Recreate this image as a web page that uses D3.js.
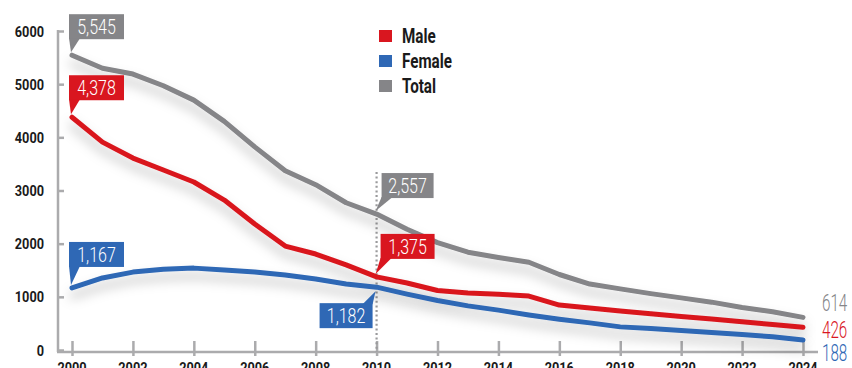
<!DOCTYPE html>
<html>
<head>
<meta charset="utf-8">
<script src="https://cdn.jsdelivr.net/npm/d3@7"></script>
<style>
  html, body { margin: 0; padding: 0; background: #fff; }
  svg { display: block; }
  text { font-family: Roboto, "Noto Sans", sans-serif; }
</style>
</head>
<body>
<svg id="chart" width="852" height="368"></svg>
<script>
// Yearly counts, 2000–2024
const years = d3.range(2000, 2025);
const male = [4378, 3910, 3610, 3385, 3160, 2820, 2370, 1955, 1805, 1600, 1375, 1260, 1120, 1070, 1050, 1015, 845, 790, 735, 680, 630, 585, 530, 480, 426];
const female = [1167, 1355, 1465, 1520, 1540, 1505, 1465, 1410, 1335, 1240, 1182, 1050, 930, 830, 750, 660, 580, 510, 435, 405, 365, 330, 290, 250, 188];
const total = [5545, 5300, 5190, 4970, 4700, 4300, 3820, 3370, 3110, 2770, 2557, 2270, 2020, 1840, 1740, 1650, 1420, 1240, 1150, 1060, 980, 900, 800, 720, 614];
const yTicks = [0, 1000, 2000, 3000, 4000, 5000, 6000];
const xTicks = d3.range(2000, 2025, 2);

const colors = { male: "#d9161f", female: "#2f68b5", total: "#858588" };
const series = [
  { key: "total", name: "Total", values: total },
  { key: "male", name: "Male", values: male },
  { key: "female", name: "Female", values: female }
];

const svg = d3.select("#chart");
const x = d3.scaleLinear().domain([2000, 2024]).range([72, 803]);
const y = d3.scaleLinear().domain([0, 6000]).range([350, 31]);
const fmt = d3.format(",");

// squeeze text horizontally for a condensed look
function condense(sel, factor) {
  sel.each(function () {
    const w = this.getComputedTextLength();
    d3.select(this).attr("textLength", w * factor).attr("lengthAdjust", "spacingAndGlyphs");
  });
}

// soft shadow under the lines
const defs = svg.append("defs");
const f = defs.append("filter").attr("id", "shadow")
  .attr("x", "-10%").attr("y", "-40%").attr("width", "120%").attr("height", "200%");
f.append("feDropShadow").attr("dx", 0).attr("dy", 8).attr("stdDeviation", 6)
  .attr("flood-color", "#000").attr("flood-opacity", 0.26);

const axisColor = "#ababad";

// y axis
const yAxis = svg.append("g").attr("transform", "translate(58,0)")
  .call(d3.axisRight(y).tickValues(yTicks).tickSize(6).tickFormat(""));
yAxis.select(".domain").remove();
yAxis.selectAll(".tick line").attr("stroke", axisColor).attr("stroke-width", 2.5);
svg.append("line").attr("x1", 58).attr("x2", 58).attr("y1", y(6000) - 1).attr("y2", 352)
  .attr("stroke", axisColor).attr("stroke-width", 2.5);
svg.append("g").selectAll("text").data(yTicks).join("text")
  .attr("x", 44).attr("y", d => y(d)).attr("dy", "0.36em")
  .attr("text-anchor", "end").attr("font-weight", "bold").attr("font-size", 15.5)
  .attr("fill", "#1a1a1a").text(d => d)
  .call(condense, 0.82);

// x axis
svg.append("line").attr("x1", 57).attr("x2", 818).attr("y1", 352).attr("y2", 352)
  .attr("stroke", axisColor).attr("stroke-width", 2.5);
const xAxis = svg.append("g").attr("transform", "translate(0,341)")
  .call(d3.axisBottom(x).tickValues(xTicks).tickSize(15).tickFormat(""));
xAxis.select(".domain").remove();
xAxis.selectAll(".tick line").attr("stroke", axisColor).attr("stroke-width", 2.5);
svg.append("g").selectAll("text").data(xTicks).join("text")
  .attr("x", d => x(d)).attr("y", 373)
  .attr("text-anchor", "middle").attr("font-weight", "bold").attr("font-size", 15.5)
  .attr("fill", "#1a1a1a").text(d => d)
  .call(condense, 0.82);

// dotted marker at 2010
svg.append("line").attr("x1", x(2010)).attr("x2", x(2010)).attr("y1", 172).attr("y2", 352)
  .attr("stroke", "#9a9a9c").attr("stroke-width", 2.2).attr("stroke-dasharray", "2,2.6");

// lines
const line = d3.line().x((d, i) => x(years[i])).y(d => y(d));
svg.append("g").selectAll("path").data(series).join("path")
  .attr("d", d => line(d.values))
  .attr("fill", "none")
  .attr("stroke", d => colors[d.key])
  .attr("stroke-width", 5)
  .attr("stroke-linejoin", "round")
  .attr("stroke-linecap", "round")
  .attr("filter", "url(#shadow)");

// callouts: box above the point with a pointer tail (or below, tail pointing up)
function callout(year, value, key, opts) {
  const px = x(year), py = y(value);
  const w = opts.w, h = 25;
  const g = svg.append("g");
  let bx, by, tail;
  if (opts.below) {
    bx = px - 4 - w; by = py + 16;
    tail = [[bx + w, by + 1], [bx + w - 10, by + 1], [px - 1, py + 4]];
  } else {
    bx = px - 3 + (opts.dx || 0); by = py - opts.gap - h;
    tail = [[bx, by + h - 1], [bx + 11, by + h - 1], [px - 1 + (opts.tipDx || 0), py - 3]];
  }
  g.append("rect").attr("x", bx).attr("y", by).attr("width", w).attr("height", h)
    .attr("fill", colors[key]);
  g.append("path").attr("d", d3.line()(tail) + "Z").attr("fill", colors[key]);
  g.append("text")
    .attr("x", bx + w / 2).attr("y", by + h / 2).attr("dy", "0.36em")
    .attr("text-anchor", "middle").attr("font-size", 20).attr("font-weight", 300)
    .attr("fill", "#fff")
    .text(fmt(value))
    .call(condense, 0.8);
}
callout(2000, total[0], "total", { w: 55, gap: 16 });
callout(2000, male[0], "male", { w: 55, gap: 17 });
callout(2000, female[0], "female", { w: 55, gap: 21 });
callout(2010, total[10], "total", { w: 52, gap: 16, dx: 8 });
callout(2010, male[10], "male", { w: 54, gap: 18, dx: 7 });
callout(2010, female[10], "female", { w: 53, below: true });

// end values
const last = years.length - 1;
const endY = { total: 303, male: 330, female: 353 };
svg.append("g").selectAll("text").data(series).join("text")
  .attr("x", 822).attr("y", d => endY[d.key]).attr("dy", "0.36em")
  .attr("font-size", 23).attr("font-weight", 300).attr("fill", d => colors[d.key])
  .text(d => d.values[last])
  .call(condense, 0.66);

// legend
const legend = svg.append("g").attr("transform", "translate(379,30)");
const legendItems = [series[1], series[2], series[0]];
legend.selectAll("rect").data(legendItems).join("rect")
  .attr("x", 0).attr("y", (d, i) => i * 25).attr("width", 13).attr("height", 12)
  .attr("fill", d => colors[d.key]);
legend.selectAll("text").data(legendItems).join("text")
  .attr("x", 23).attr("y", (d, i) => i * 25 + 6).attr("dy", "0.36em")
  .attr("font-size", 19.5).attr("font-weight", "bold").attr("fill", "#1a1a1a")
  .text(d => d.name)
  .call(condense, 0.78);
</script>
</body>
</html>
